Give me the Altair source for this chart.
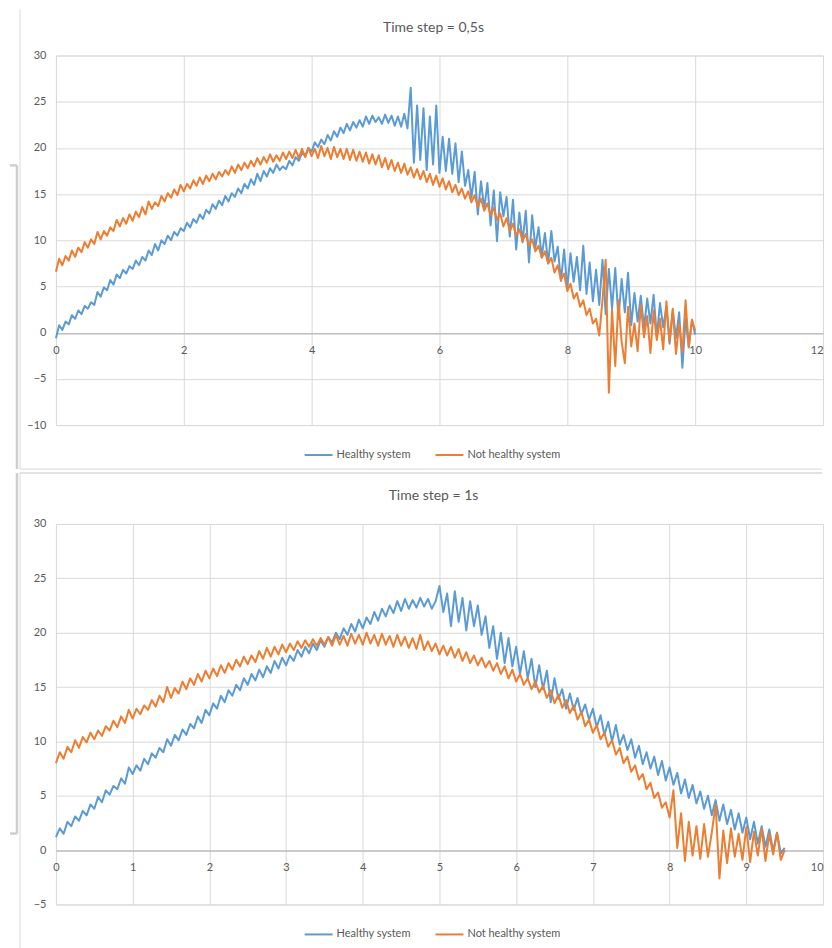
import altair as alt
import pandas as pd

# ---------------- data ----------------
SERIES = ["Healthy system", "Not healthy system"]
COLORS = ["#5B9BD5", "#ED7D31"]

TITLE_A = "Time step = 0,5s"
STEP_A = 0.05
HEALTHY_A = [
    -0.6, 0.8, 0.3, 1.2, 0.9, 1.9, 1.5, 2.4, 2.0, 2.9, 2.6, 3.3, 3.0, 4.4, 3.9, 4.9, 4.6, 5.7, 5.2, 6.3,
    5.9, 6.8, 6.4, 7.2, 6.9, 7.8, 7.3, 8.2, 7.8, 8.9, 8.4, 9.6, 8.9, 10.0, 9.6, 10.5, 10.0, 10.9, 10.5, 11.3,
    11.0, 11.9, 11.4, 12.3, 11.9, 12.8, 12.3, 13.3, 12.9, 13.9, 13.4, 14.3, 13.8, 14.8, 14.2, 15.1, 14.7, 15.6, 15.1, 16.1,
    15.6, 16.6, 16.0, 17.2, 16.4, 17.5, 16.9, 17.8, 17.3, 18.2, 17.6, 18.0, 17.7, 18.6, 18.1, 19.0, 18.6, 19.5, 19.1, 20.0,
    19.6, 20.6, 20.1, 20.9, 20.4, 21.4, 20.8, 21.8, 21.2, 22.2, 21.6, 22.6, 21.9, 22.8, 22.2, 23.0, 22.3, 23.4, 22.6, 23.5,
    22.8, 23.3, 22.6, 23.6, 22.7, 23.5, 22.4, 23.4, 22.3, 23.7, 22.1, 26.5, 18.4, 24.6, 18.7, 24.3, 17.6, 23.4, 18.2, 24.6,
    17.3, 21.2, 17.5, 21.0, 17.2, 20.5, 16.3, 19.6, 15.9, 17.6, 14.6, 17.4, 12.8, 16.4, 13.4, 16.2, 11.6, 15.4, 9.9, 15.2,
    12.6, 14.7, 10.4, 14.4, 9.0, 13.0, 9.8, 13.2, 7.6, 12.7, 9.2, 11.4, 8.2, 10.8, 7.5, 11.0, 7.7, 9.3, 5.6, 9.0,
    4.8, 8.6, 5.5, 8.2, 4.6, 9.4, 4.2, 7.6, 3.4, 6.8, 3.0, 7.9, 2.0, 6.9, 2.6, 7.0, 1.5, 5.8, 2.2, 6.5,
    0.8, 4.3, 1.2, 4.0, 0.5, 3.7, 1.0, 4.1, -0.4, 3.2, 0.6, 2.8, -1.2, 2.4, -0.6, 2.2, -3.8, 1.5, -1.6, 1.4,
    -0.2,
]
NOT_HEALTHY_A = [
    6.6, 8.0, 7.3, 8.3, 7.8, 8.9, 8.2, 9.2, 8.7, 9.8, 9.2, 10.1, 9.6, 10.9, 10.1, 11.0, 10.5, 11.4, 11.0, 12.2,
    11.5, 12.4, 11.8, 12.8, 12.1, 13.1, 12.5, 13.6, 12.8, 14.2, 13.4, 14.1, 13.7, 14.8, 14.2, 15.1, 14.6, 15.5, 14.9, 16.0,
    15.3, 16.1, 15.6, 16.5, 15.9, 16.8, 16.1, 17.0, 16.4, 17.2, 16.6, 17.4, 16.9, 17.6, 17.1, 18.0, 17.3, 18.2, 17.6, 18.4,
    17.8, 18.6, 18.0, 18.9, 18.2, 19.0, 18.4, 19.3, 18.5, 19.2, 18.6, 19.5, 18.8, 19.6, 18.9, 19.8, 18.9, 19.9, 19.0, 20.0,
    19.1, 19.9, 18.9, 20.2, 19.1, 20.0, 18.8, 20.1, 19.0, 19.9, 18.8, 19.9, 18.7, 19.8, 18.6, 19.6, 18.5, 19.5, 18.3, 19.3,
    18.2, 19.2, 17.9, 18.9, 17.7, 18.7, 17.5, 18.4, 17.3, 18.3, 17.1, 17.9, 16.8, 17.7, 16.6, 17.5, 16.3, 17.2, 16.0, 17.0,
    15.8, 16.7, 15.5, 16.4, 15.2, 16.0, 14.9, 15.6, 14.5, 15.3, 14.1, 14.9, 13.6, 14.5, 13.2, 14.0, 12.7, 13.5, 12.2, 12.9,
    11.5, 12.4, 11.0, 11.8, 10.5, 11.2, 9.9, 10.7, 9.4, 10.1, 8.8, 9.4, 8.1, 8.8, 7.5, 8.1, 6.5, 7.3, 5.7, 6.4,
    4.5, 5.3, 3.7, 4.3, 2.8, 3.5, 1.9, 2.6, 1.0, 1.5, -0.3, 3.5, 7.9, -6.5, 2.5, -3.6, 3.5, -1.0, -3.3, 2.8,
    -1.5, 1.0, -2.0, 3.0, -0.5, 1.8, -2.2, 2.4, -0.8, 1.5, -1.8, 3.4, -1.0, 2.6, -2.3, 1.0, -2.1, 3.5, -1.5, 1.4,
    0.2,
]
X_TICKS_A = [0, 2, 4, 6, 8, 10, 12]
Y_TICKS_A = [-10, -5, 0, 5, 10, 15, 20, 25, 30]

TITLE_B = "Time step = 1s"
STEP_B = 0.05
HEALTHY_B = [
    1.2, 2.0, 1.5, 2.6, 2.2, 3.1, 2.7, 3.6, 3.2, 4.2, 3.8, 4.9, 4.4, 5.5, 5.1, 5.9, 5.6, 6.6, 6.1, 7.6,
    7.0, 7.8, 7.3, 8.4, 7.9, 8.9, 8.5, 9.4, 9.0, 10.2, 9.6, 10.6, 10.1, 11.1, 10.6, 11.6, 11.2, 12.3, 11.7, 12.9,
    12.4, 13.5, 13.0, 14.2, 13.6, 14.7, 14.2, 15.2, 14.7, 15.8, 15.2, 16.2, 15.6, 16.6, 15.9, 16.9, 16.3, 17.4, 16.7, 17.7,
    17.0, 17.9, 17.4, 18.4, 17.8, 18.7, 18.1, 19.0, 18.4, 19.3, 18.7, 19.6, 19.1, 20.0, 19.4, 20.4, 19.8, 20.8, 20.1, 21.2,
    20.4, 21.4, 20.8, 21.9, 21.1, 22.2, 21.5, 22.5, 21.8, 22.9, 22.0, 23.1, 22.2, 23.0, 22.3, 23.2, 22.4, 23.1, 22.2, 22.9,
    24.3, 21.9, 23.6, 20.6, 23.8, 21.0, 23.2, 20.2, 22.9, 20.6, 22.5, 19.8, 21.5, 18.6, 20.6, 17.6, 20.0, 17.2, 19.5, 16.9,
    18.7, 16.2, 18.3, 15.8, 17.6, 15.0, 17.0, 14.8, 16.5, 13.6, 15.8, 13.9, 14.8, 13.0, 14.4, 12.9, 14.0, 12.5, 13.4, 12.0,
    13.0, 11.3, 12.4, 10.6, 11.8, 10.0, 11.5, 9.7, 10.6, 9.2, 10.2, 8.5, 9.6, 7.9, 9.0, 7.5, 8.6, 6.9, 8.2, 6.4,
    7.6, 6.0, 7.1, 5.2, 6.5, 4.8, 6.0, 4.3, 5.4, 3.8, 5.0, 3.2, 4.6, 2.7, 4.2, 2.4, 3.7, 1.9, 3.4, 1.6,
    3.0, 1.0, 2.6, 0.6, 2.2, 0.3, 1.9, -0.1, 1.6, -0.3, 0.2,
]
NOT_HEALTHY_B = [
    8.0, 9.0, 8.4, 9.5, 9.0, 10.1, 9.4, 10.4, 9.9, 10.8, 10.2, 11.0, 10.5, 11.4, 11.0, 11.9, 11.3, 12.3, 11.7, 12.9,
    12.1, 13.0, 12.5, 13.3, 12.9, 13.8, 13.2, 14.2, 13.6, 15.0, 14.0, 14.9, 14.4, 15.5, 14.8, 15.8, 15.2, 16.2, 15.5, 16.5,
    15.8, 16.7, 16.0, 17.0, 16.3, 17.2, 16.6, 17.5, 16.9, 17.8, 17.1, 17.9, 17.3, 18.3, 17.6, 18.6, 17.8, 18.7, 18.0, 18.9,
    18.2, 19.0, 18.4, 19.2, 18.6, 19.3, 18.7, 19.4, 18.8, 19.5, 18.9, 19.6, 18.8, 19.8, 18.9, 19.7, 18.8, 19.9, 19.0, 19.8,
    18.9, 20.0, 19.0, 19.8, 18.8, 19.9, 18.9, 19.7, 18.7, 19.8, 18.8, 19.6, 18.6, 19.5, 18.5, 19.8, 18.4, 19.2, 18.3, 19.0,
    18.0, 18.8, 17.9, 18.7, 17.7, 18.5, 17.4, 18.2, 17.2, 17.9, 17.0, 17.7, 16.8, 17.4, 16.5, 17.2, 16.2, 16.9, 15.8, 16.6,
    15.5, 16.2, 15.2, 15.8, 14.8, 15.5, 14.5, 15.1, 14.0, 14.7, 13.5, 14.3, 13.1, 13.8, 12.6, 13.3, 12.0, 12.7, 11.4, 12.0,
    10.8, 11.5, 10.2, 10.8, 9.5, 10.1, 8.8, 9.4, 8.0, 8.6, 7.2, 7.8, 6.5, 7.0, 5.6, 6.2, 4.8, 5.3, 3.9, 4.4,
    3.0, 5.5, 0.2, 3.4, -1.0, 2.6, -0.5, 2.2, -0.8, 2.4, -0.6, 1.6, 4.2, -2.6, 1.8, -1.2, 2.0, -0.6, 1.5, -0.9,
    2.1, -1.1, 1.7, -0.5, 2.0, -1.0, 1.5, -0.4, 1.6, -0.9, 0.0,
]
X_TICKS_B = [0, 1, 2, 3, 4, 5, 6, 7, 8, 9, 10]
Y_TICKS_B = [-5, 0, 5, 10, 15, 20, 25, 30]

FONT = "Lato"
TEXT_COLOR = "#595959"
GRID_COLOR = "#d9d9d9"
FRAME_COLOR = "#d9d9d9"
BOX_COLOR = "#cfcfcf"


def series_frame(values, step, name):
    return pd.DataFrame({
        "t": [round(i * step, 4) for i in range(len(values))],
        "v": values,
        "series": name,
    })


ONE = pd.DataFrame({"k": [0]})


def vrule(x, y1, y2, color, width):
    return alt.Chart(ONE).mark_rule(color=color, strokeWidth=width).encode(
        x=alt.value(x), y=alt.value(y1), y2=alt.value(y2))


def hrule(y, x1, x2, color, width):
    return alt.Chart(ONE).mark_rule(color=color, strokeWidth=width).encode(
        y=alt.value(y), x=alt.value(x1), x2=alt.value(x2))


def panel(healthy, not_healthy, step, title, xdom, xticks, ydom, yticks,
          width, height, x_offset, legend_y, title_offset, decorations):
    color = alt.Color(
        "series:N",
        scale=alt.Scale(domain=SERIES, range=COLORS),
        legend=alt.Legend(
            title=None, orient="none", direction="horizontal",
            legendX=248, legendY=legend_y,
            symbolType="stroke", symbolStrokeWidth=2, symbolSize=784,
            labelFont=FONT, labelFontSize=11, labelColor=TEXT_COLOR,
            labelOffset=3, columnPadding=20,
        ),
    )
    x = alt.X(
        "t:Q",
        scale=alt.Scale(domain=xdom, nice=False, zero=False),
        axis=alt.Axis(
            values=xticks, title=None, grid=True, gridColor=GRID_COLOR,
            ticks=False, tickSize=0, domain=True, domainColor="#bfbfbf",
            domainWidth=1.5, offset=x_offset, labelPadding=11,
            labelFont=FONT, labelFontSize=11, labelColor=TEXT_COLOR,
            labelFlush=False, format="d",
            labelAlign=alt.ExprRef(
                expr=f"datum.value == {xdom[1]} ? 'right' : 'center'"),
        ),
    )
    y = alt.Y(
        "v:Q",
        scale=alt.Scale(domain=ydom, nice=False, zero=False),
        axis=alt.Axis(
            values=yticks, title=None, grid=True, gridColor=GRID_COLOR,
            ticks=False, tickSize=0, domain=False, labelPadding=10,
            labelFont=FONT, labelFontSize=11, labelColor=TEXT_COLOR,
            minExtent=36, maxExtent=36, format="d",
        ),
    )
    layers = list(decorations)
    for vals, name in [(healthy, SERIES[0]), (not_healthy, SERIES[1])]:
        layers.append(
            alt.Chart(series_frame(vals, step, name))
            .mark_line(strokeWidth=2, strokeJoin="round")
            .encode(x=x, y=y, color=color, order="t:Q")
        )
    return alt.layer(*layers).properties(
        width=width, height=height,
        title=alt.TitleParams(
            title, font=FONT, fontSize=14, fontWeight="normal",
            color=TEXT_COLOR, anchor="middle", frame="group",
            baseline="alphabetic", offset=title_offset, dx=-6,
        ),
    )


# chart-area frames and the neighbouring box edge of the screenshot
deco_top = [
    vrule(-36, -46, 414, FRAME_COLOR, 1),
    hrule(414, -36, 767, FRAME_COLOR, 1),
    vrule(-39, 110, 414, BOX_COLOR, 2.5),
    hrule(110, -46, -39, BOX_COLOR, 2.5),
]
deco_bottom = [
    vrule(-36, -51, 425, FRAME_COLOR, 1),
    hrule(-51, -36, 767, FRAME_COLOR, 1.5),
    vrule(-39, -51, 310, BOX_COLOR, 2.5),
    hrule(310, -46, -39, BOX_COLOR, 2.5),
]

top = panel(HEALTHY_A, NOT_HEALTHY_A, STEP_A, TITLE_A, [0, 12], X_TICKS_A,
            [-10, 30], Y_TICKS_A, 768, 370, -92, 385, -37, deco_top)
bottom = panel(HEALTHY_B, NOT_HEALTHY_B, STEP_B, TITLE_B, [0, 10], X_TICKS_B,
               [-5, 30], Y_TICKS_B, 768, 381, -54, 396, -42, deco_bottom)

chart = (
    alt.vconcat(top, bottom, spacing=0)
    .resolve_legend(color="independent")
    .properties(padding={"left": 0, "top": 0, "right": 0, "bottom": 0})
    .configure_view(stroke=None)
    .configure(background="white")
)

chart.save("out.html", embed_options={"renderer": "svg", "actions": False})
